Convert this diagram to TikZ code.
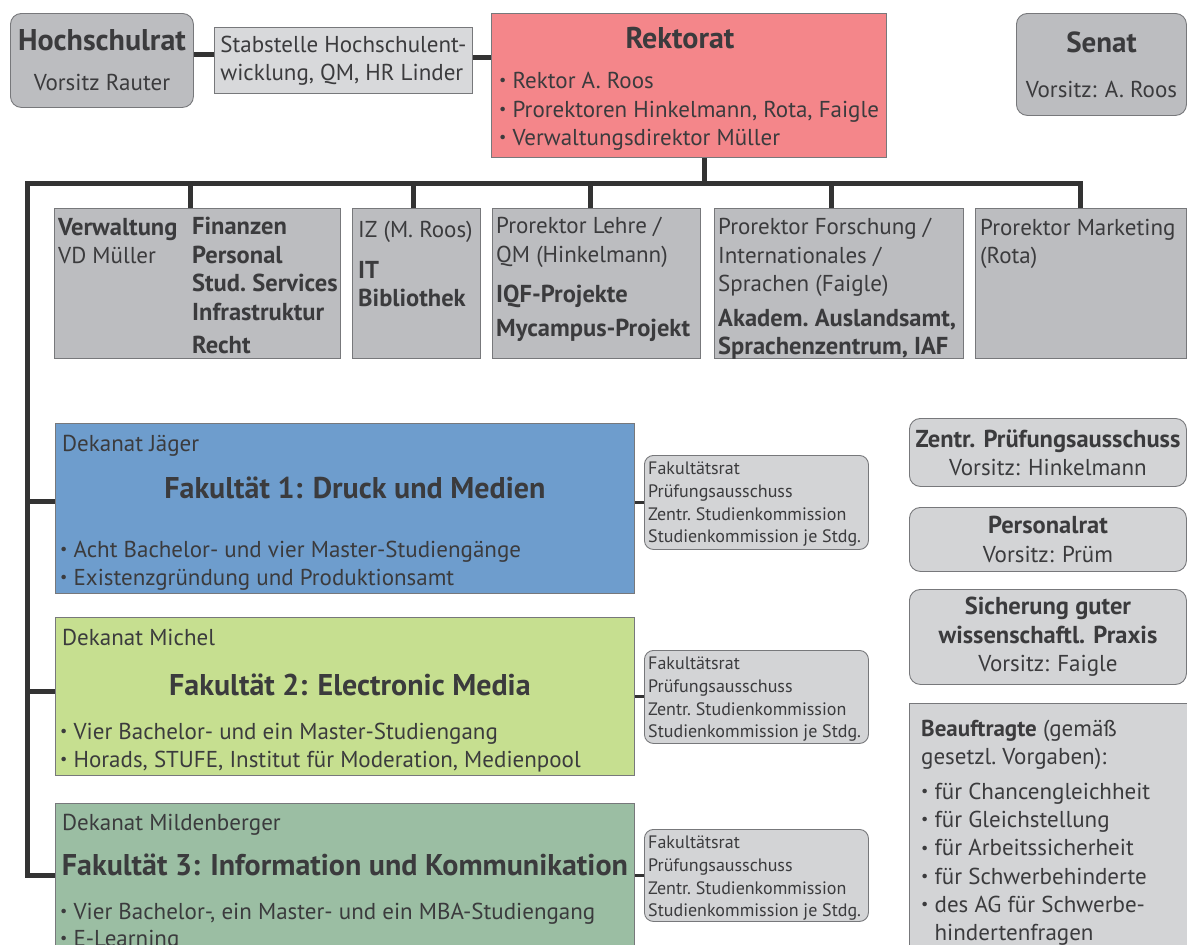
\documentclass[tikz,border=0pt]{standalone}
\usepackage{fontspec}
\setmainfont{PT Sans}
\usetikzlibrary{calc}

\definecolor{ink}{HTML}{3B3B3D}
\definecolor{wire}{HTML}{333333}
\definecolor{edge}{HTML}{77787B}
\definecolor{grayA}{HTML}{BCBDC0}
\definecolor{grayB}{HTML}{D8D9DB}
\definecolor{grayC}{HTML}{D3D4D6}
\definecolor{rekred}{HTML}{F4868A}
\definecolor{fakblue}{HTML}{6E9DCD}
\definecolor{fakgreen}{HTML}{C6DF90}
\definecolor{fakteal}{HTML}{9BBEA3}

\newcommand\fsz[2]{\fontsize{#1}{#2}\selectfont}
\newcommand\dotitem{\raisebox{0.12em}{\scalebox{0.7}{\textbullet}}\ }

\begin{document}
\begin{tikzpicture}[
  x=1pt, y=-1pt,
  orgbox/.style={draw=edge, line width=0.9pt, inner sep=0pt, anchor=north west, text=ink},
  roundbox/.style={orgbox, rounded corners=11pt},
  txt/.style={inner sep=0pt, anchor=north west, align=left, text=ink, font=\fsz{23}{28.5}},
  bold/.style={txt, font=\fsz{24.5}{28.5}\bfseries},
  small/.style={txt, font=\fsz{18}{22.7}},
  title/.style={txt, anchor=center, font=\fsz{30}{32}\bfseries},
  bus/.style={draw=wire, line width=5pt},
  link/.style={draw=wire, line width=3pt}
]
  \clip (0,0) rectangle (1187,945);

  % Kopfzeile
  \node[roundbox, fill=grayA, minimum width=183, minimum height=94, align=center, font=\fsz{23}{40}] (hsr) at (10,13)
    {{\fsz{30}{40}\bfseries Hochschulrat}\\Vorsitz Rauter};
  \node[orgbox, fill=grayB, minimum width=258, minimum height=66, align=left, font=\fsz{23}{28}] (stab) at (214,27)
    {Stabstelle Hochschulent-\\wicklung, QM, HR Linder};
  \node[orgbox, fill=rekred, minimum width=395, minimum height=144] (rek) at (491,13) {};
  \node[title] (rek-title) at ([shift={(-9,25)}]rek.north) {Rektorat};
  \node[txt] (rek-list) at ([shift={(8,59)}]rek.north west)
    {\dotitem Rektor A.\ Roos\\\dotitem Prorektoren Hinkelmann, Rota, Faigle\\\dotitem Verwaltungsdirektor Müller};
  \node[roundbox, fill=grayA, minimum width=170, minimum height=102, align=center, font=\fsz{23}{45}] (senat) at (1016,13)
    {{\fsz{29}{45}\bfseries Senat}\\Vorsitz: A.\ Roos};

  % Zentrale Einrichtungen
  \node[orgbox, fill=grayA, minimum width=286, minimum height=150] (verw) at (54,208) {};
  \node[txt] (verw-head) at ([shift={(4,10)}]verw.north west) {{\fsz{24.5}{28.5}\bfseries Verwaltung}\\VD Müller};
  \node[bold] (verw-list) at ([shift={(138,9)}]verw.north west)
    {Finanzen\\Personal\\Stud.\ Services\\Infrastruktur\\[5pt]Recht};
  \node[orgbox, fill=grayA, minimum width=128, minimum height=150] (iz) at (352,208) {};
  \node[txt] (iz-head) at ([shift={(6,13)}]iz.north west) {IZ (M.\ Roos)};
  \node[bold] (iz-list) at ([shift={(6,53)}]iz.north west) {IT\\Bibliothek};
  \node[orgbox, fill=grayA, minimum width=208, minimum height=150] (lehre) at (492,208) {};
  \node[txt] (lehre-head) at ([shift={(4,9)}]lehre.north west) {Prorektor Lehre /\\QM (Hinkelmann)};
  \node[bold] (lehre-list) at ([shift={(4,77)}]lehre.north west) {IQF-Projekte\\[5pt]Mycampus-Projekt};
  \node[orgbox, fill=grayA, minimum width=249, minimum height=150] (forsch) at (714,208) {};
  \node[txt] (forsch-head) at ([shift={(4,10)}]forsch.north west)
    {Prorektor Forschung /\\Internationales /\\Sprachen (Faigle)};
  \node[bold] (forsch-list) at ([shift={(4,101)}]forsch.north west) {Akadem.\ Auslandsamt,\\Sprachenzentrum, IAF};
  \node[orgbox, fill=grayA, minimum width=211, minimum height=150] (mkt) at (975,208) {};
  \node[txt] (mkt-head) at ([shift={(5,11)}]mkt.north west) {Prorektor Marketing\\(Rota)};

  % Fakultaeten
  \node[orgbox, fill=fakblue, minimum width=579, minimum height=170] (fak1) at (55,423) {};
  \node[txt] (fak1-dek) at ([shift={(7,12)}]fak1.north west) {Dekanat Jäger};
  \node[title] (fak1-title) at ([shift={(10,65)}]fak1.north) {Fakultät 1: Druck und Medien};
  \node[txt, font=\fsz{23}{28}] (fak1-list) at ([shift={(5,118)}]fak1.north west)
    {\dotitem Acht Bachelor- und vier Master-Studiengänge\\\dotitem Existenzgründung und Produktionsamt};
  \node[orgbox, fill=fakgreen, minimum width=579, minimum height=158] (fak2) at (55,617) {};
  \node[txt] (fak2-dek) at ([shift={(7,12)}]fak2.north west) {Dekanat Michel};
  \node[title] (fak2-title) at ([shift={(5,68)}]fak2.north) {Fakultät 2: Electronic Media};
  \node[txt, font=\fsz{23}{28}] (fak2-list) at ([shift={(5,106)}]fak2.north west)
    {\dotitem Vier Bachelor- und ein Master-Studiengang\\\dotitem Horads, STUFE, Institut für Moderation, Medienpool};
  \node[orgbox, fill=fakteal, minimum width=579, minimum height=200] (fak3) at (55,803) {};
  \node[txt] (fak3-dek) at ([shift={(7,11)}]fak3.north west) {Dekanat Mildenberger};
  \node[title] (fak3-title) at ([shift={(0,62)}]fak3.north) {Fakultät 3: Information und Kommunikation};
  \node[txt, font=\fsz{23}{27}] (fak3-list) at ([shift={(5,100)}]fak3.north west)
    {\dotitem Vier Bachelor-, ein Master- und ein MBA-Studiengang\\\dotitem E-Learning};

  % Gremien der Fakultaeten
  \foreach \i/\top/\h in {1/455/94, 2/650/93, 3/829/92} {
    \node[roundbox, rounded corners=9pt, fill=grayC, minimum width=224, minimum height=\h] (side\i) at (644,\top) {};
    \node[small] (side\i-list) at ([shift={(4,7)}]side\i.north west)
      {Fakultätsrat\\Prüfungsausschuss\\Zentr.\ Studienkommission\\Studienkommission je Stdg.};
  }

  % Gremien rechts
  \node[roundbox, fill=grayC, minimum width=277, minimum height=68, align=center, font=\fsz{23}{28}] (zpa) at (909,418)
    {{\fsz{24.5}{28}\bfseries Zentr. Prüfungsausschuss}\\Vorsitz: Hinkelmann};
  \node[roundbox, fill=grayC, minimum width=277, minimum height=64, align=center, font=\fsz{23}{29}] (prat) at (909,507)
    {{\fsz{24.5}{29}\bfseries Personalrat}\\Vorsitz: Prüm};
  \node[roundbox, fill=grayC, minimum width=277, minimum height=95, align=center, font=\fsz{23}{28.5}] (sgwp) at (909,589)
    {{\fsz{24.5}{28.5}\bfseries Sicherung guter}\\{\fsz{24.5}{28.5}\bfseries wissenschaftl. Praxis}\\Vorsitz: Faigle};
  \node[orgbox, fill=grayC, minimum width=280, minimum height=260] (beau) at (909,703) {};
  \node[txt, font=\fsz{23}{28.3}] (beau-list) at ([shift={(12,17)}]beau.north west)
    {\textbf{Beauftragte} (gemäß\\gesetzl.\ Vorgaben):\\[6pt]\dotitem für Chancengleichheit\\\dotitem für Gleichstellung\\\dotitem für Arbeitssicherheit\\\dotitem für Schwerbehinderte\\\dotitem des AG für Schwerbe-\\\phantom{\dotitem}hindertenfragen};

  % Verbindungen
  \coordinate (busL) at (27,183);
  \draw[bus] ([yshift=6pt]stab.west) -- ([yshift=6pt]stab.west -| hsr.east);
  \draw[bus] ([yshift=3pt]stab.east) -- ([yshift=3pt]stab.east -| rek.west);
  \draw[bus] ([xshift=16pt]rek.south) -- ([xshift=16pt]rek.south |- busL);
  \draw[bus] (mkt.north) |- (busL) |- (fak3.west |- side3.west);
  \foreach \b/\dx in {verw/-7, iz/-3, lehre/-6, forsch/-7}
    \draw[bus] ([xshift=\dx pt]\b.north) -- ([xshift=\dx pt]\b.north |- busL);
  \foreach \f/\dy in {fak1/7, fak2/5}
    \draw[bus] ([yshift=\dy pt]\f.west -| busL) -- ([yshift=\dy pt]\f.west);
  \foreach \i in {1,2,3}
    \draw[link] (side\i.west -| fak\i.east) -- (side\i.west);
\end{tikzpicture}
\end{document}
